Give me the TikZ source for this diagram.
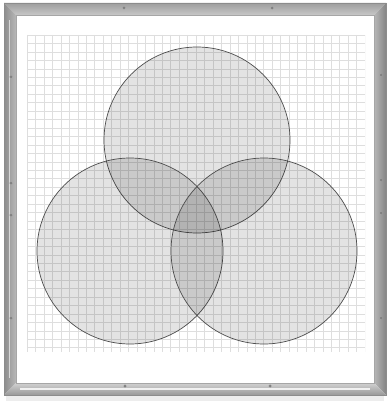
\documentclass[tikz,border=0pt]{standalone}
\begin{document}
\begin{tikzpicture}[x=1pt,y=-1pt,
  gridline/.style={draw=black!13,line width=0.4pt},
  venn/.style={fill=black,fill opacity=0.11,draw=black!70,draw opacity=1,line width=0.7pt},
  screw/.style={fill=black!55,draw=black!30,line width=0.3pt}]
\useasboundingbox (0,0) rectangle (389,403);
\fill[white] (0,0) rectangle (389,403);
% shadow
\fill[black!7] (6,395) rectangle (384,401);
% board
\fill[white] (16,15) rectangle (374,383);
% grid
\begin{scope}
  \clip (27,35) rectangle (365,352);
  \foreach \i in {0,...,40}
    \draw[gridline] ({27+8.45*\i},35) -- ({27+8.45*\i},352);
  \foreach \j in {0,...,38}
    \draw[gridline] (27,{35+8.45*\j}) -- (365,{35+8.45*\j});
\end{scope}
% circles
\foreach \c in {(197,140),(130,251),(264,251)}
  \path[venn] \c circle[radius=93];
% frame
\shade[top color=black!38,bottom color=black!22] (4,3) -- (386,3) -- (374,15) -- (16,15) -- cycle;
\shade[left color=black!45,right color=black!28] (4,3) -- (16,15) -- (16,383) -- (4,395) -- cycle;
\shade[left color=black!28,right color=black!48] (386,3) -- (374,15) -- (374,383) -- (386,395) -- cycle;
\shade[top color=black!18,bottom color=black!40] (4,395) -- (16,383) -- (374,383) -- (386,395) -- cycle;
\draw[white,line width=1.5pt,opacity=0.8] (20,389) -- (370,389);
\draw[white,line width=1pt,opacity=0.6] (9,20) -- (9,378);
\draw[black!35,line width=0.4pt] (16,15) rectangle (374,383);
\draw[black!45,line width=0.4pt] (4,3) rectangle (386,395);
% screws
\foreach \p in {(124,8),(272,8),(11,77),(11,183),(11,215),(11,318),
                (381,75),(381,180),(381,213),(381,318),(125,386),(270,386)}
  \path[screw] \p circle[radius=1.5];
\end{tikzpicture}
\end{document}
